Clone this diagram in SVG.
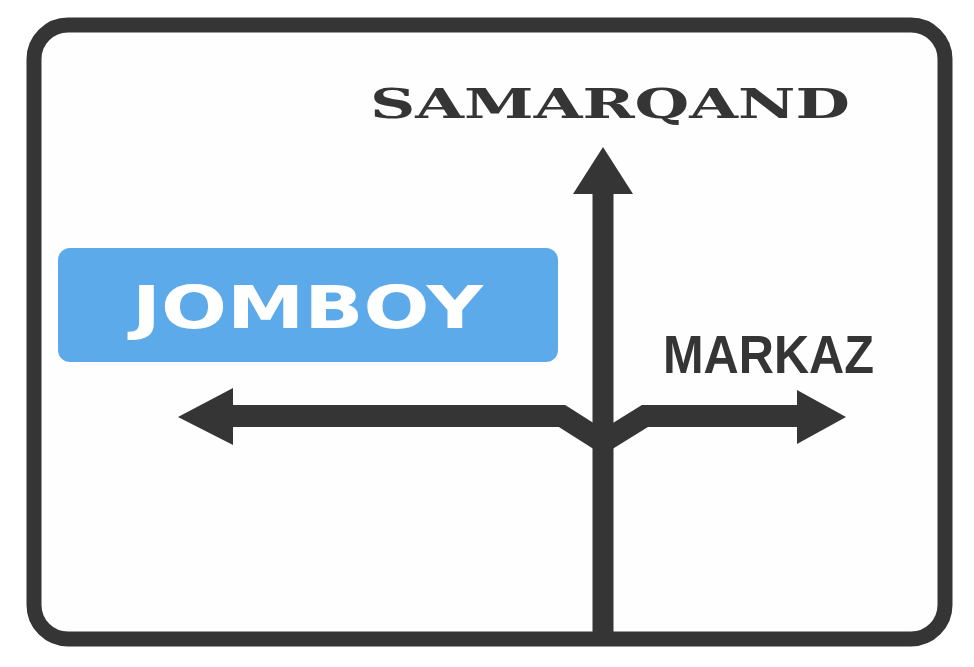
<svg xmlns="http://www.w3.org/2000/svg" width="974" height="667" viewBox="0 0 974 667">
<style>
.ink{fill:#353535}
.road{fill:none;stroke:#353535;stroke-width:22;stroke-linejoin:miter;stroke-miterlimit:10}
.lbl{fill:#353535;font-weight:bold}
</style>
<rect width="974" height="667" fill="#ffffff"/>
<g id="sign-border">
<rect x="34" y="25" width="911" height="614" rx="34" ry="34" fill="#fefefe" stroke="#353535" stroke-width="15"/>
</g>
<g id="connectors">
<path class="road" d="M603,190 V640" style="stroke-width:21"/>
<polygon class="ink" points="603,147 633,194 573,194"/>
<path class="road" d="M230,416 H562 L603,442"/>
<polygon class="ink" points="178,417 233,388 233,445"/>
<path class="road" d="M603,442 L645,416 H800"/>
<polygon class="ink" points="846,417 797,390 797,444"/>
</g>
<g id="samarqand">
<text class="lbl" x="370" y="118" font-family="'DejaVu Serif','Liberation Serif',serif" font-size="41" textLength="480" lengthAdjust="spacingAndGlyphs">SAMARQAND</text>
</g>
<g id="jomboy">
<rect x="58" y="248" width="500" height="114" rx="12" ry="12" fill="#5daaea"/>
<text x="132" y="328" fill="#ffffff" font-weight="bold" font-family="'DejaVu Sans','Liberation Sans',sans-serif" font-size="59" textLength="351" lengthAdjust="spacingAndGlyphs">JOMBOY</text>
</g>
<g id="markaz">
<text class="lbl" x="663" y="373" font-family="'Liberation Sans','DejaVu Sans',sans-serif" font-size="53" textLength="211" lengthAdjust="spacingAndGlyphs">MARKAZ</text>
</g>
</svg>
